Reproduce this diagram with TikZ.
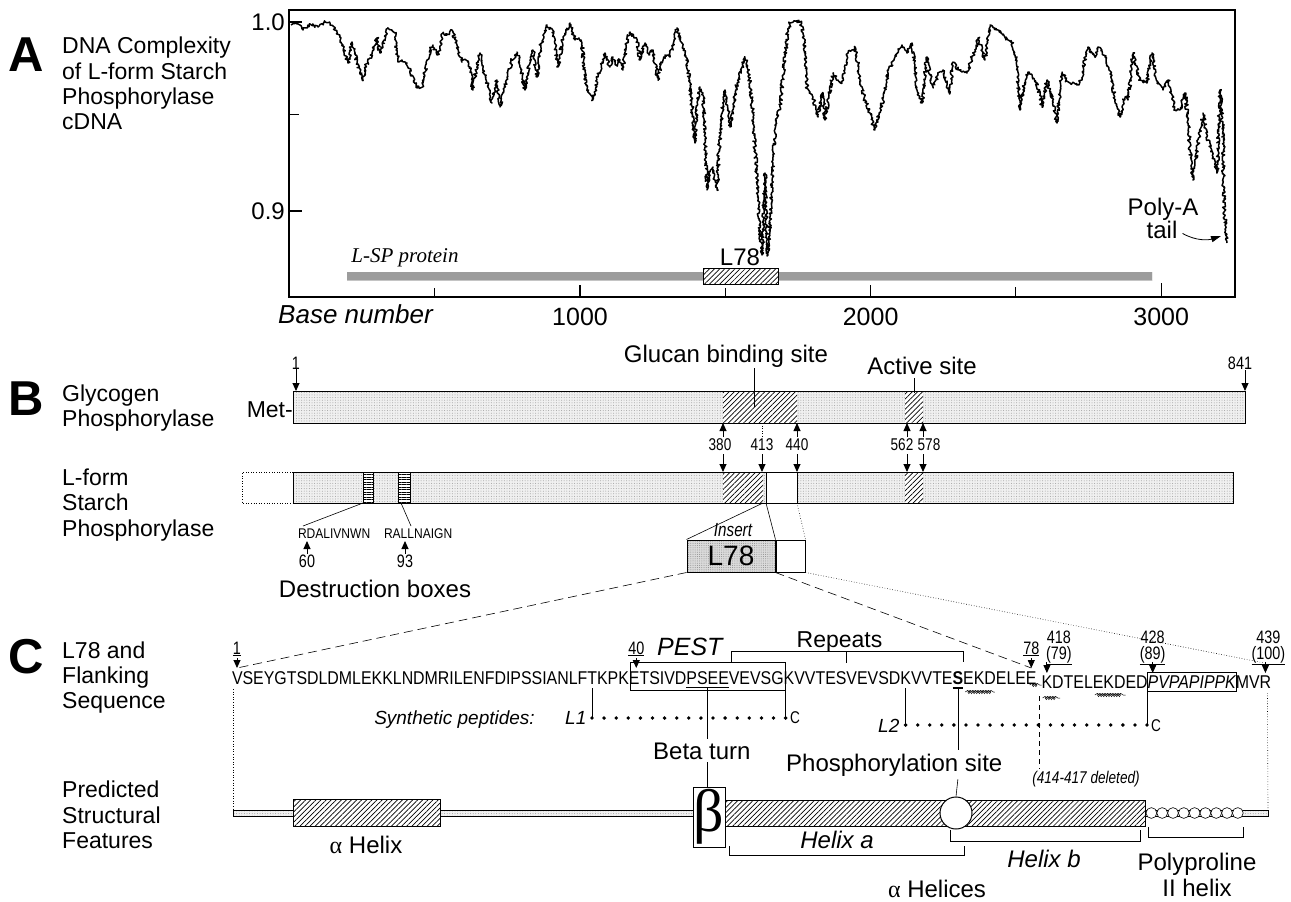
\documentclass[tikz,border=0pt]{standalone}
\usepackage{fontspec}
\setmainfont{Liberation Sans}
\newfontfamily\seqfont[FakeStretch=0.86]{Liberation Sans}
\newfontfamily\numfont[FakeStretch=0.8]{Liberation Sans}
\newfontfamily\greekfont{Liberation Serif}
\usetikzlibrary{arrows.meta,positioning,calc,patterns.meta,decorations.pathmorphing}

\tikzset{
  lbl/.style={font=\fontsize{23}{25}\selectfont,inner sep=0pt,anchor=base west},
  ctr/.style={font=\fontsize{24}{25}\selectfont,inner sep=0pt,anchor=base},
  panel/.style={font=\fontsize{49}{49}\selectfont\bfseries,inner sep=0pt,anchor=base west},
  seq/.style={font=\seqfont\fontsize{18.5}{18.5}\selectfont,inner sep=0pt,outer sep=0pt,anchor=base west},
  num/.style={font=\numfont\fontsize{17}{17}\selectfont,inner sep=0pt,anchor=base},
  posnum/.style={font=\numfont\fontsize{18}{18}\selectfont,inner sep=0pt,anchor=base},
  stipfill/.style={preaction={fill=gray!12},pattern={Dots[distance=2.6pt,radius=0.5pt]},pattern color=gray!75},
  hatchfill/.style={preaction={fill=white},pattern={Lines[angle=45,distance=3.6pt,line width=0.7pt]}},
  outline/.style={draw,line width=1pt},
  tiparrow/.style={-{Triangle[length=8pt,width=7pt]},line width=0.9pt},
  fine/.style={line width=0.6pt},
  squig/.style={decorate,decoration={coil,aspect=1.1,amplitude=1.6pt,segment length=2.6pt},line width=0.5pt},
}

\begin{document}
\begin{tikzpicture}[x=1pt,y=-1pt]
\useasboundingbox[fill=white] (0,0) rectangle (1291,902);

% ---------- A: complexity profile
\node[panel] (pA) at (8,71) {A};
\node[lbl] (a1) at (62,53) {DNA Complexity};
\node[lbl] (a2) at (62,79) {of L-form Starch};
\node[lbl] (a3) at (62,104) {Phosphorylase};
\node[lbl] (a4) at (62,129) {cDNA};

\draw[line width=1.1pt] (289,10) rectangle (1235,297);
\foreach \y/\v/\n in {22/1.0/1,211/0.9/2}{
  \draw[line width=1.1pt] (289,\y) -- (302,\y);
  \node[ctr,anchor=east] (yv\n) at (285,\y) {\v};
}
\draw[line width=1pt] (289,114) -- (299,114);
\foreach \b/\h in {500/9,1000/12,1500/9,2000/12,2500/10,3000/14}
  \draw[line width=1.1pt] ({289.4+0.2906*\b},297) -- ++(0,-\h);
\foreach \b in {1000,2000,3000}
  \node[ctr,font=\fontsize{25}{25}\selectfont] (xv\b) at ({289.4+0.2906*\b},325) {\b};
\node[lbl,font=\fontsize{26}{26}\selectfont\itshape] (xlab) at (278,323) {Base number};

\fill[preaction={fill=gray!40},pattern={Dots[distance=2pt,radius=0.7pt]},pattern color=black] (347,272) rectangle (1152,280);
\node[ctr,font=\greekfont\fontsize{21}{21}\selectfont\itshape] (lsp) at (405,262) {L-SP protein};
\draw[outline,hatchfill] (703,268) rectangle (778,284);
\node[ctr] (l78a) at (740,265) {L78};

\node[ctr] (polyA) at (1163,215) {Poly-A};
\node[ctr] (tail) at (1162,238) {tail};
\coordinate (tailend) at (1221,236);
\draw[line width=0.8pt,-{Triangle[length=10pt,width=6pt]}] ($(tail.east)+(5,4)$)
  .. controls +(14,8) and +(-12,4) .. (tailend);

\pgfmathsetseed{11}
\draw[line width=1.5pt,line join=round,decorate,decoration={random steps,segment length=1.3pt,amplitude=1.7pt}]
 plot coordinates {(291,25) (296,22) (303,30) (310,24) (318,27) (325,22) (330,23) (337,32) (343,45)
 (348,63) (352,42) (356,58) (362,80) (366,66) (370,58) (374,48) (377,38) (380,53) (384,40) (388,28)
 (392,30) (395,33) (398,62) (402,60) (407,63) (412,75) (417,88) (423,85) (427,60) (430,50) (433,45)
 (437,55) (440,50) (443,33) (447,35) (452,30) (457,45) (462,62) (466,60) (470,67) (473,90) (476,70)
 (480,53) (485,75) (490,93) (492,103) (497,80) (500,107) (504,90) (507,77) (512,60) (517,52) (521,70)
 (525,90) (529,65) (533,50) (537,77) (541,45) (547,25) (553,33) (558,67) (563,37) (567,30) (570,23)
 (575,40) (579,38) (582,43) (585,80) (588,90) (593,100) (598,77) (602,62) (605,53) (610,67) (613,57)
 (616,65) (620,60) (623,70) (626,45) (630,32) (634,38) (637,40) (640,60) (645,43) (649,55) (653,50)
 (656,70) (658,80) (661,62) (665,55) (670,57) (674,40) (677,28) (682,43) (687,60) (690,85) (692,107)
 (695,143) (697,110) (700,87) (703,93) (705,140) (707,190) (710,172) (713,167) (715,180) (717,190)
 (719,150) (722,113) (725,90) (728,110) (730,127) (734,100) (737,83) (741,70) (745,57) (748,70)
 (750,83) (753,117) (755,150) (757,177) (759,220) (762,255) (764,200) (765,173) (767,240) (768,255)
 (770,220) (773,160) (775,133) (778,115) (780,107) (783,75) (785,57) (788,30) (790,23) (795,21)
 (800,22) (803,33) (805,55) (807,87) (810,92) (813,97) (816,110) (818,117) (821,95) (823,93) (825,120)
 (829,95) (833,73) (838,80) (842,83) (845,65) (848,53) (852,50) (855,47) (858,65) (860,83) (865,100)
 (870,113) (873,125) (875,130) (879,115) (883,100) (886,85) (888,73) (894,60) (902,45) (907,53)
 (912,43) (915,65) (917,90) (922,103) (925,75) (927,57) (930,75) (933,87) (938,75) (943,70) (947,85)
 (950,93) (953,62) (958,70) (962,72) (967,73) (972,58) (975,50) (978,38) (982,50) (985,60) (988,40)
 (990,25) (994,28) (998,30) (1003,35) (1008,40) (1012,43) (1015,55) (1017,67) (1020,110) (1023,90)
 (1028,72) (1033,78) (1037,83) (1042,107) (1047,80) (1050,92) (1053,102) (1057,123) (1060,90)
 (1062,72) (1066,80) (1070,83) (1077,85) (1082,80) (1085,60) (1088,47) (1095,57) (1098,47) (1102,52)
 (1105,57) (1109,70) (1112,80) (1115,100) (1120,117) (1125,97) (1128,100) (1131,75) (1133,53)
 (1137,70) (1140,80) (1147,83) (1152,53) (1157,83) (1163,90) (1168,80) (1172,95) (1175,110)
 (1180,110) (1185,93) (1188,120) (1190,150) (1193,180) (1198,143) (1203,113) (1208,140) (1213,157)
 (1217,173) (1219,120) (1220,90) (1223,130) (1224,207) (1227,243)};

% ---------- B: domain maps
\node[panel] (pB) at (8,415) {B};
\node[lbl] (b1) at (62,401) {Glycogen};
\node[lbl] (b2) at (62,426) {Phosphorylase};
\node[lbl,anchor=base east] (met) at (293,417) {Met-};
\fill[stipfill] (293,391) rectangle (1245,423);
\fill[hatchfill] (723,391) rectangle (797,423);
\fill[hatchfill] (905,391) rectangle (923,423);
\draw[outline] (293,391) rectangle (1245,423);

\node[posnum] (n1) at (296,369) {1};
\draw[tiparrow] (n1.south) -- (296,391);
\node[posnum] (n841) at (1240,369) {841};
\draw[tiparrow] (1245,370) -- (1245,391);
\node[ctr] (glucan) at (726,362) {Glucan binding site};
\draw[fine] (754,368) -- (754,407);
\node[ctr] (active) at (922,374) {Active site};
\draw[fine] (914,378) -- (914,393);

\foreach \x/\t/\n in {720/380/a,762/413/b,797/440/c,902/562/d,929/578/e}
  \node[num] (p\n) at (\x,450) {\t};
\foreach \x in {723,797,907,923}{
  \draw[tiparrow] (\x,437) -- (\x,423);
  \draw[tiparrow] (\x,454) -- (\x,472);}
\draw[tiparrow] (762,454) -- (762,472);
\draw[fine,dotted] (762,423) -- (pb.north);

\node[lbl] (b3) at (62,485) {L-form};
\node[lbl] (b4) at (62,510) {Starch};
\node[lbl] (b5) at (62,536) {Phosphorylase};
\draw[fine,dotted] (293,472) -- (242,472) -- (242,503) -- (293,503);
\fill[stipfill] (293,472) rectangle (1233,503);
\fill[hatchfill] (723,472) rectangle (763,503);
\fill[hatchfill] (905,472) rectangle (923,503);
\draw[outline] (293,472) rectangle (1233,503);
\draw[outline,fill=white] (766,472) rectangle (797,503);
\foreach \xa/\xb in {363/373,398/410}
  \draw[fine,preaction={fill=white},pattern={Lines[angle=0,distance=2.5pt,line width=0.6pt]}] (\xa,472) rectangle (\xb,503);

\node[seq,font=\seqfont\fontsize{14}{14}\selectfont] (rd) at (298,538) {RDALIVNWN};
\node[seq,font=\seqfont\fontsize{14}{14}\selectfont] (ra) at (384,538) {RALLNAIGN};
\draw[fine] (363,503) -- (303,526);
\draw[fine] (401,503) -- (411,526);
\node[posnum] (d60) at (307,567) {60};
\node[posnum] (d93) at (405,567) {93};
\draw[tiparrow] (d60.north) -- (307,541);
\draw[tiparrow] (d93.north) -- (405,541);
\node[ctr] (dbox) at (375,597) {Destruction boxes};

\node[ctr,font=\numfont\fontsize{19}{19}\selectfont\itshape] (ins) at (733,536) {Insert};
\node[outline,minimum width=88pt,minimum height=32pt,inner sep=0pt,preaction={fill=gray!28},
  pattern={Dots[distance=2.2pt,radius=0.5pt]},pattern color=gray!90,font=\fontsize{28}{28}\selectfont]
  (l78box) at (731,556) {L78};
\node[outline,fill=white,minimum width=29pt,minimum height=32pt,inner sep=0pt,anchor=west] (wbox) at (l78box.east) {};
\coordinate (hatchend) at (763,503);
\coordinate (boxl) at (766,503);
\coordinate (boxr) at (797,503);
\draw[fine] (hatchend) -- (l78box.north west);
\draw[fine] (boxl) -- (wbox.north west);
\draw[fine,dotted] (boxr) -- (wbox.north east);

% ---------- C: sequence and structure
\node[panel] (pC) at (8,673) {C};
\node[lbl] (c1) at (62,658) {L78 and};
\node[lbl] (c2) at (62,683) {Flanking};
\node[lbl] (c3) at (62,708) {Sequence};
\node[lbl] (c4) at (62,797) {Predicted};
\node[lbl] (c5) at (62,823) {Structural};
\node[lbl] (c6) at (62,848) {Features};

\node[seq] (s1) at (232,684) {VSEYGTSDLDMLEKKLNDMRILENFDIPSSIANLF};
\node[seq] (s2) at (s1.base east) {T};
\node[seq] (s3) at (s2.base east) {KPK};
\node[seq] (s4) at (s3.base east) {E};
\node[seq] (s5) at (s4.base east) {TSIVD};
\node[seq] (s6) at (s5.base east) {PSEE};
\node[seq] (s7) at (s6.base east) {VEVSG};
\node[seq] (s8) at (s7.base east) {KVVTES};
\node[seq] (s9) at (s8.base east) {VEVSD};
\node[seq] (s10) at (s9.base east) {K};
\node[seq] (s11) at (s10.base east) {VVTE};
\node[seq,font=\seqfont\fontsize{18.5}{18.5}\selectfont\bfseries] (s12) at (s11.base east) {S};
\node[seq] (s13) at (s12.base east) {EKD};
\node[seq] (s14) at (s13.base east) {ELE};
\node[seq] (s15) at (s14.base east) {E};
\node[seq] (t1) at ($(s15.base east)+(5,4)$) {K};
\node[seq] (t2) at (t1.base east) {DTEL};
\node[seq] (t3) at (t2.base east) {EKD};
\node[seq] (t4) at (t3.base east) {ED};
\node[seq,font=\seqfont\fontsize{18.5}{18.5}\selectfont\itshape] (t5) at (t4.base east) {PVPAPIPPK};
\node[seq] (t6) at (t5.base east) {MV};
\node[seq] (t7) at (t6.base east) {R};

% position markers
\node[posnum] (m1) at ($(s1.base west)+(5,-30)$) {\underline{1}};
\node[posnum] (m40) at ($(s4.base)+(2,-30)$) {\underline{40}};
\node[posnum] (m78) at ($(s15.base)+(0,-30)$) {\underline{78}};
\foreach \m in {m1,m40,m78}
  \draw[tiparrow] ($(\m.base)+(0,4)$) -- ($(\m.base)+(0,14)$);
\node[posnum] (m418) at ($(t1.base)+(12,-45)$) {418};
\node[posnum] (m79) at ($(t1.base)+(12,-29)$) {\underline{(79)}};
\node[posnum] (m428) at ($(t5.base west)+(5,-45)$) {428};
\node[posnum] (m89) at ($(t5.base west)+(5,-29)$) {\underline{(89)}};
\node[posnum] (m439) at ($(t7.base)+(3,-45)$) {439};
\node[posnum] (m100) at ($(t7.base)+(3,-29)$) {\underline{(100)}};
\draw[tiparrow] ($(t1.base)+(0,-26)$) -- ($(t1.base)+(0,-15)$);
\draw[tiparrow] ($(t5.base west)+(5,-26)$) -- ($(t5.base west)+(5,-15)$);
\draw[tiparrow] ($(t7.base)+(0,-26)$) -- ($(t7.base)+(0,-15)$);

% PEST and repeats
\draw[fine] ($(s4.base west)+(1,-22)$) rectangle ($(s7.base east)+(2,6)$);
\node[lbl,font=\fontsize{25}{25}\selectfont\itshape] (pest) at ($(s4.base west)+(28,-29)$) {PEST};
\node[ctr,font=\fontsize{23}{23}\selectfont] (rep) at ($(s9.base west)+(-7,-37)$) {Repeats};
\draw[fine] ($(s7.base west)+(2,-22)$) -- ++(0,-11) -| ($(s12.base east)+(0,-22)$);
\draw[line width=1.6pt] ($(s9.base west)+(0,-33)$) -- ++(0,12);
\draw[fine] ($(s6.base west)+(0,3)$) -- ($(s6.base east)+(0,3)$);
\draw[fine] ($(t5.base west)+(0,-16)$) rectangle ($(t5.base east)+(0,3)$);

% helix squiggles and deletion
\draw[squig] ($(s13.base west)+(2,8)$) -- ($(s13.base east)+(-1,8)$);
\draw[squig] ($(s15.base east)+(-7,1)$) -- ($(t1.base west)+(0,-3)$);
\draw[squig] ($(t1.base west)+(1,10)$) -- ($(t2.base west)+(8,10)$);
\draw[squig] ($(t3.base west)+(2,7)$) -- ($(t3.base east)+(0,7)$);
\draw[line width=1.2pt] ($(s12.base west)+(0,4)$) -- ($(s12.base east)+(0,4)$);

% synthetic peptides
\node[lbl,font=\fontsize{19}{19}\selectfont\itshape,anchor=base east] (synth) at (535,724) {Synthetic peptides:};
\node[lbl,font=\fontsize{19}{19}\selectfont\itshape] (L1) at (565,724) {L1};
\draw[fine] ($(s2.base)+(0,4)$) -- (s2.base |- 0,718);
\draw[fine] ($(s7.base east)+(2,6)$) -- ($(s7.base east)+(2,34)$);
\foreach \i in {0,...,16} \fill ({592+12.1*\i},718) circle (1.9);
\node[posnum,anchor=base west,font=\numfont\fontsize{17}{17}\selectfont] (L1c) at (790,723) {C};
\node[lbl,font=\fontsize{19}{19}\selectfont\itshape] (L2) at (878,732) {L2};
\draw[fine] ($(s10.base)+(0,4)$) -- (s10.base |- 0,725);
\draw[fine] ($(t5.base west)+(0,3)$) -- (t5.base west |- 0,725);
\foreach \i in {0,...,20} \fill ({905.6+12.07*\i},725) circle (1.9);
\node[posnum,anchor=base west,font=\numfont\fontsize{17}{17}\selectfont] (L2c) at (1151,731) {C};

% structural features
\fill[stipfill] (233,810) rectangle (1268,816);
\draw[fine] (233,810) rectangle (1268,816);
\draw[fine,dotted] ($(s1.base west)+(1,5)$) -- (233,810);
\draw[fine,dotted] ($(t7.base)+(2,5)$) -- (1268,810);
\draw[outline,hatchfill] (293,799) rectangle (440,826);
\draw[outline,hatchfill] (725,800) rectangle (1145,826);
\node[outline,fill=white,minimum width=32pt,minimum height=60pt,inner sep=0pt,
  font=\greekfont\fontsize{60}{60}\selectfont] (bbox) at (709,817) {β};
\node[circle,outline,fill=white,minimum size=32pt,inner sep=0pt] (psite) at (956,813) {};
\foreach \i in {0,...,8} \draw[fine,fill=white] ({1151.4+10.8*\i},813) circle (5.4);

\node[lbl,font=\fontsize{24}{25}\selectfont] (beta) at (653,759) {Beta turn};
\coordinate (bt) at ($(s6.base)+(0,3)$);
\draw[fine] (bt) -- ($(bt |- beta.north)+(0,-3)$);
\draw[fine] ($(bt |- beta.south)+(0,3)$) -- (bt |- bbox.north);
\node[lbl,font=\fontsize{24}{25}\selectfont] (phos) at (786,771) {Phosphorylation site};
\draw[fine] ($(s12.base)+(0,4)$) -- ($(s12.base |- phos.north)+(0,-3)$);
\draw[fine] ($(s12.base |- phos.south)+(0,3)$) -- (psite.north);
\node[ctr,font=\numfont\fontsize{17}{17}\selectfont\itshape] (del) at (1086,783) {(414-417 deleted)};
\coordinate (delpt) at ($(s15.base east)!0.5!(t1.base west)$);
\draw[fine,dash pattern=on 5pt off 4pt] ($(delpt)+(0,10)$) -- ($(delpt |- del.north)+(0,-2)$);

\draw[fine] (729,846) -- (729,855) -- (964,855) -- (964,846);
\node[ctr,font=\fontsize{24}{25}\selectfont\itshape] (hxa) at (837,848) {Helix a};
\draw[fine] (950,830) -- (950,841) -- (1140,841) -- (1140,830);
\node[ctr,font=\fontsize{24}{25}\selectfont\itshape] (hxb) at (1044,867) {Helix b};
\draw[fine] (1148,827) -- (1148,837) -- (1243,837) -- (1243,827);
\node[ctr] (pp1) at (1197,870) {Polyproline};
\node[ctr] (pp2) at (1197,896) {II helix};
\node[ctr] (ahel) at (937,897) {{\greekfont α} Helices};
\node[ctr] (ahx) at (366,853) {{\greekfont α} Helix};

% links from the insert to the sequence
\draw[fine,dash pattern=on 9pt off 5pt] (l78box.south west) -- ($(m1.base)+(0,14)$);
\draw[fine,dash pattern=on 9pt off 5pt] (l78box.south east) -- ($(m78.base)+(0,14)$);
\draw[fine,dotted] (wbox.south east) -- ($(m100.base)+(-4,4)$);
\end{tikzpicture}
\end{document}
